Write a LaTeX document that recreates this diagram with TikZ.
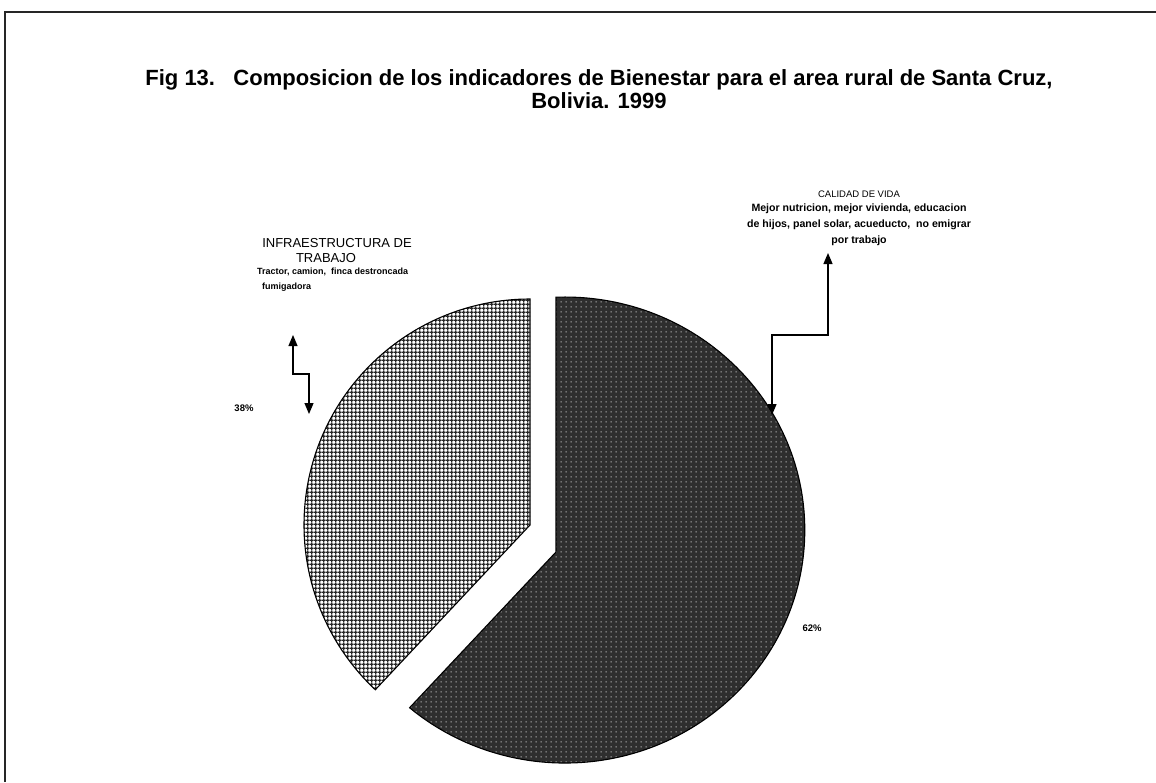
\documentclass[tikz,border=0pt]{standalone}
\usepackage{fontspec}
\setmainfont{Liberation Sans}
\usetikzlibrary{arrows.meta,patterns.meta}
\tikzdeclarepattern{
  name=gridfill,
  type=uncolored,
  bounding box={(0pt,0pt) and (4.2pt,4.2pt)},
  tile size={(4.2pt,4.2pt)},
  code={\fill (0pt,1.45pt) rectangle (4.2pt,2.75pt); \fill (1.45pt,0pt) rectangle (2.75pt,4.2pt);}
}
\tikzdeclarepattern{
  name=dotfill,
  type=uncolored,
  bounding box={(0pt,0pt) and (4.6pt,4.6pt)},
  tile size={(4.6pt,4.6pt)},
  code={\fill (2.3pt,2.3pt) circle (0.85pt);}
}
\tikzset{
  frameline/.style={line width=1.4pt, black!85},
  slice/.style={draw=black, line width=1.1pt},
  zigzag/.style={line width=1.2pt, {Triangle[width=9pt,length=11pt]}-{Triangle[width=9pt,length=11pt]}},
  titletext/.style={font=\fontsize{22}{23}\selectfont\bfseries, align=center, inner sep=0pt},
  captext/.style={font=\fontsize{13}{15}\selectfont, inner sep=0pt},
  subtext/.style={font=\fontsize{9}{15.5}\selectfont\bfseries, inner sep=0pt},
  calsub/.style={font=\fontsize{10.6}{15.8}\selectfont\bfseries, inner sep=0pt, align=center},
  pcttext/.style={font=\fontsize{9.5}{11}\selectfont\bfseries, inner sep=0pt}
}
\begin{document}
\begin{tikzpicture}[x=1pt,y=-1pt]
\useasboundingbox[fill=white] (0,0) rectangle (1156,782);
% frame
\draw[frameline] (5,782) -- (5,12) -- (1156,12);
% title
\node[titletext] (title) at (599,89) {Fig 13.\ \ \ Composicion de los indicadores de Bienestar para el area rural de Santa Cruz,\\Bolivia. 1999};
% light slice (38%)
\path[fill=white] (530,525) -- ++(0,-226) arc[start angle=270, end angle=133.2, radius=226] -- cycle;
\path[pattern=gridfill, pattern color=black!85] (530,525) -- ++(0,-226) arc[start angle=270, end angle=133.2, radius=226] -- cycle;
\draw[slice] (530,525) -- ++(0,-226) arc[start angle=270, end angle=133.2, radius=226] -- cycle;
% dark slice (62%)
\fill[black!82] (556,552) -- (556,297.2) arc[start angle=-92.1, end angle=130.3, x radius=240, y radius=233] -- cycle;
\path[pattern=dotfill, pattern color=black!45] (556,552) -- (556,297.2) arc[start angle=-92.1, end angle=130.3, x radius=240, y radius=233] -- cycle;
\draw[slice] (556,552) -- (556,297.2) arc[start angle=-92.1, end angle=130.3, x radius=240, y radius=233] -- cycle;
% labels
\node[captext] (infra1) at (337,243) {INFRAESTRUCTURA DE};
\node[captext] (infra2) at (326,258) {TRABAJO};
\node[subtext, anchor=west] (infra3) at (257,272) {Tractor, camion,\ \ finca destroncada};
\node[subtext, anchor=west] (infra4) at (262,287) {fumigadora};
\node[pcttext] (p38) at (244,408) {38\%};
\node[captext, font=\fontsize{9.5}{11}\selectfont] (cal1) at (859,194) {CALIDAD DE VIDA};
\node[calsub] (cal2) at (859,225) {Mejor nutricion, mejor vivienda, educacion\\de hijos, panel solar, acueducto,\ \ no emigrar\\por trabajo};
\node[pcttext] (p62) at (812,628) {62\%};
% connectors
\coordinate (la) at (293,335);
\coordinate (lb) at (309,414);
\draw[zigzag] (la) -- (293,374) -- (309,374) -- (lb);
\coordinate (ra) at (828,253);
\coordinate (rb) at (772,415);
\draw[zigzag] (ra) -- (828,335) -- (772,335) -- (rb);
\end{tikzpicture}
\end{document}
